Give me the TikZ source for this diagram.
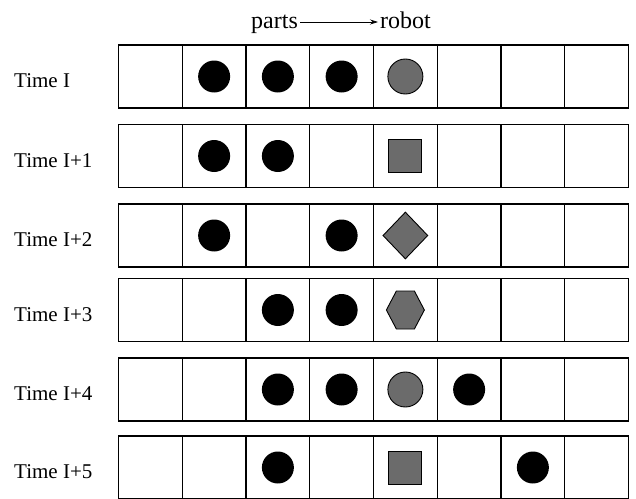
\documentclass[tikz,border=0pt]{standalone}
\usepackage{fontspec}
\setmainfont{Liberation Serif}
\usetikzlibrary{shapes.geometric,arrows.meta}
\begin{document}
\begin{tikzpicture}[x=1pt,y=-1pt,
  cell/.style={draw,line width=1.3pt,minimum width=63.75pt,minimum height=63pt,inner sep=0pt,outer sep=0pt},
  part/.style={circle,fill=black,inner sep=0pt,minimum size=32pt},
  robotfill/.style={draw=black,line width=0.9pt,fill=black!58,inner sep=0pt},
  robotcircle/.style={robotfill,circle,minimum size=35pt},
  robotsquare/.style={robotfill,rectangle,minimum size=33pt},
  robotdiamond/.style={robotfill,diamond,minimum width=45pt,minimum height=47pt},
  rowlabel/.style={anchor=base west,inner sep=0pt,font=\fontsize{21}{21}\selectfont},
  title/.style={anchor=base west,inner sep=2pt,font=\fontsize{24}{24}\selectfont},
  flow/.style={line width=0.7pt,-{Stealth[length=8pt,width=5pt]}}
]
\useasboundingbox (0,0) rectangle (636,498);

% title
\node[title] (parts) at (249,28) {parts};
\node[title] (robot) at (378,28) {robot};
\draw[flow] ([yshift=6pt]parts.base east) -- ([yshift=6pt]robot.base west);

% rows of cells
\foreach \r/\top in {0/45,1/124.5,2/204,3/278.5,4/358,5/436}{
  \foreach \c in {0,...,7}{
    \node[cell] (c\r\c) at ({118.5+63.75*(\c+0.5)},{\top+31.5}) {};
  }
}

% labels
\node[rowlabel] (l0) at (14,{45+31.5+11}) {Time I};
\node[rowlabel] (l1) at (14,{124.5+31.5+11}) {Time I+1};
\node[rowlabel] (l2) at (14,{204+31.5+11}) {Time I+2};
\node[rowlabel] (l3) at (14,{278.5+31.5+11}) {Time I+3};
\node[rowlabel] (l4) at (14,{358+31.5+11}) {Time I+4};
\node[rowlabel] (l5) at (14,{436+31.5+11}) {Time I+5};

% parts (black discs)
\foreach \r/\c in {0/1,0/2,0/3,1/1,1/2,2/1,2/3,3/2,3/3,4/2,4/3,4/5,5/2,5/6}{
  \node[part] (p\r\c) at (c\r\c) {};
}

% robot states
\node[robotcircle] (r0) at (c04) {};
\node[robotsquare] (r1) at (c14) {};
\node[robotdiamond] (r2) at (c24) {};
\coordinate (r3) at (c34);
\draw[robotfill] (r3) ++(-9,-19) -- ++(18,0) -- ++(10,19) -- ++(-10,19) -- ++(-18,0) -- ++(-10,-19) -- cycle;
\node[robotcircle] (r4) at (c44) {};
\node[robotsquare] (r5) at (c54) {};
\end{tikzpicture}
\end{document}
